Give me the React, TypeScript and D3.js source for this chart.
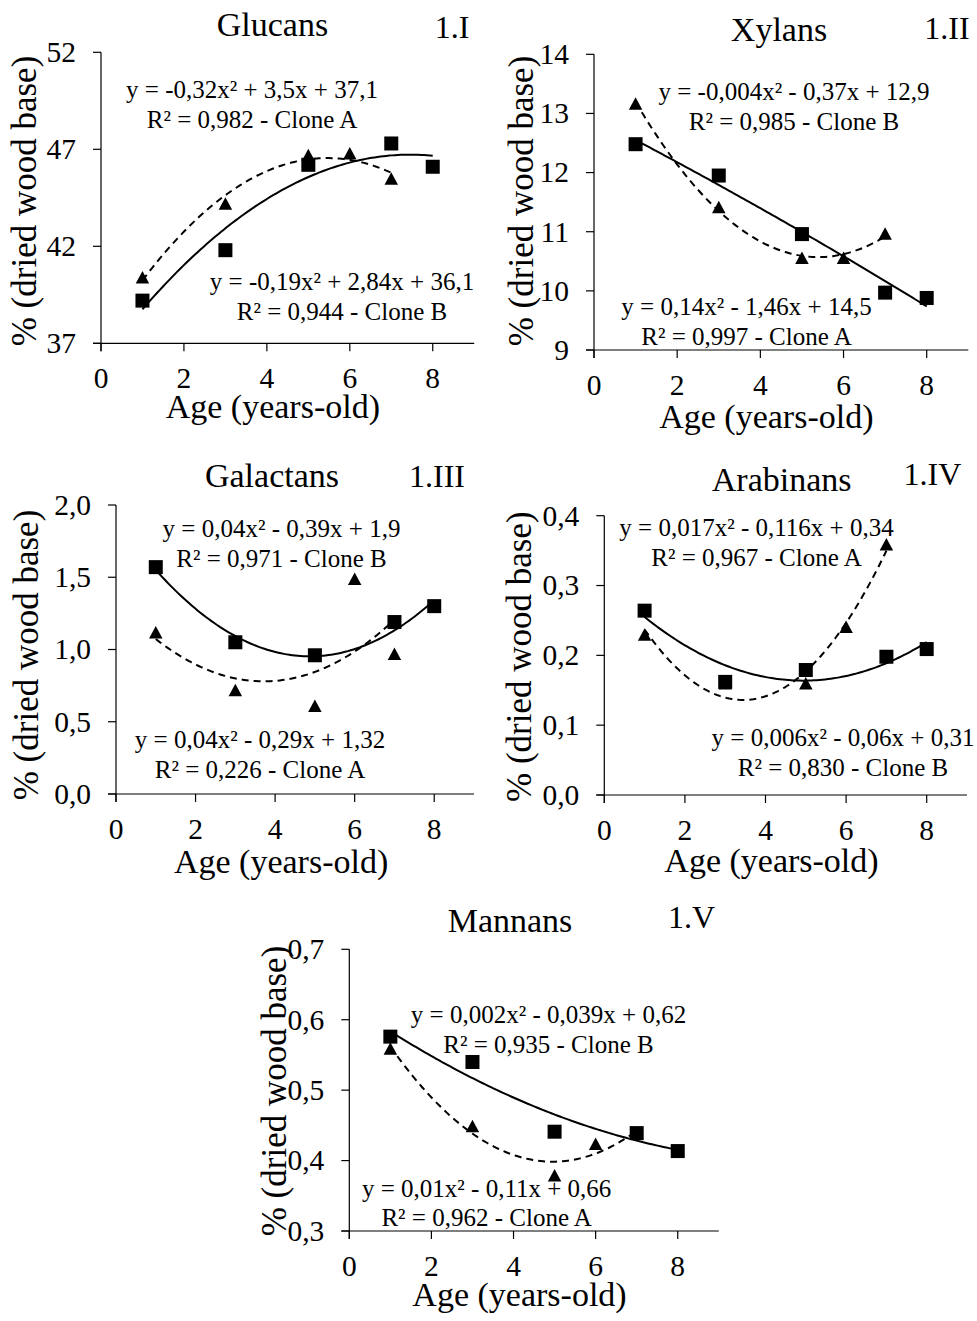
import React from "react";
import * as d3 from "d3";

// ---------- DATA ----------
const agesCloneA = [1, 3, 5, 6, 7];
const agesCloneB = [1, 3, 5, 7, 8];

const glucansA = [40.4, 44.2, 46.7, 46.8, 45.5];
const glucansB = [39.2, 41.8, 46.2, 47.3, 46.1];

const xylansA = [13.17, 11.42, 10.56, 10.56, 10.97];
const xylansB = [12.48, 11.95, 10.96, 9.97, 9.88];

const galactansA = [1.12, 0.72, 0.61, 1.49, 0.97];
const galactansB = [1.57, 1.05, 0.96, 1.19, 1.3];

const arabinansA = [0.23, 0.16, 0.16, 0.241, 0.359];
const arabinansB = [0.264, 0.162, 0.179, 0.198, 0.209];

const mannansA = [0.559, 0.449, 0.379, 0.424, 0.44];
const mannansB = [0.576, 0.54, 0.441, 0.439, 0.4135];

const xTicks = [0, 2, 4, 6, 8];
const yTicksGlucans = [37, 42, 47, 52];
const yTicksXylans = [9, 10, 11, 12, 13, 14];
const yTicksGalactans = [0, 0.5, 1.0, 1.5, 2.0];
const yTicksArabinans = [0, 0.1, 0.2, 0.3, 0.4];
const yTicksMannans = [0.3, 0.4, 0.5, 0.6, 0.7];

const titles = ["Glucans", "Xylans", "Galactans", "Arabinans", "Mannans"];
const panelIds = ["1.I", "1.II", "1.III", "1.IV", "1.V"];

const eqGlucansA = ["y = -0,32x² + 3,5x + 37,1", "R² = 0,982 - Clone A"];
const eqGlucansB = ["y = -0,19x² + 2,84x + 36,1", "R² = 0,944 - Clone B"];
const eqXylansB = ["y = -0,004x² - 0,37x + 12,9", "R² = 0,985 - Clone B"];
const eqXylansA = ["y = 0,14x² - 1,46x + 14,5", "R² = 0,997 - Clone A"];
const eqGalactansB = ["y = 0,04x² - 0,39x + 1,9", "R² = 0,971 - Clone B"];
const eqGalactansA = ["y = 0,04x² - 0,29x + 1,32", "R² = 0,226 - Clone A"];
const eqArabinansA = ["y = 0,017x² - 0,116x + 0,34", "R² = 0,967 - Clone A"];
const eqArabinansB = ["y = 0,006x² - 0,06x + 0,31", "R² = 0,830 - Clone B"];
const eqMannansB = ["y = 0,002x² - 0,039x + 0,62", "R² = 0,935 - Clone B"];
const eqMannansA = ["y = 0,01x² - 0,11x + 0,66", "R² = 0,962 - Clone A"];

const xLabel = "Age (years-old)";
const yLabel = "% (dried wood base)";

// ---------- LAYOUT ----------
const FONT = "'Liberation Serif', 'Times New Roman', serif";

const panels = [
  {
    a: glucansA, b: glucansB, yTicks: yTicksGlucans, yDomain: [37, 52], dec: 0,
    xr: [101, 474.2], yr: [343.3, 52.3],
    title: [272.5, 36], id: [452, 38],
    eqTop: eqGlucansA, eqTopPos: [252, 98], eqBot: eqGlucansB, eqBotPos: [342, 290],
    yTitle: [36, 201], xTitleY: 418,
  },
  {
    a: xylansA, b: xylansB, yTicks: yTicksXylans, yDomain: [9, 14], dec: 0,
    xr: [594, 968.3], yr: [350, 54.3],
    title: [779, 41], id: [947, 39],
    eqTop: eqXylansB, eqTopPos: [794, 100], eqBot: eqXylansA, eqBotPos: [746.5, 315],
    yTitle: [533, 201], xTitleY: 428,
  },
  {
    a: galactansA, b: galactansB, yTicks: yTicksGalactans, yDomain: [0, 2], dec: 1,
    xr: [116, 474], yr: [794, 505],
    title: [272, 486.5], id: [437, 486.5],
    eqTop: eqGalactansB, eqTopPos: [281.5, 537], eqBot: eqGalactansA, eqBotPos: [260, 748],
    yTitle: [38, 655], xTitleY: 873,
  },
  {
    a: arabinansA, b: arabinansB, yTicks: yTicksArabinans, yDomain: [0, 0.4], dec: 1,
    xr: [604.3, 967], yr: [795, 515.7],
    title: [781.7, 491], id: [932.5, 485],
    eqTop: eqArabinansA, eqTopPos: [756.5, 536], eqBot: eqArabinansB, eqBotPos: [843, 746],
    yTitle: [531, 656.7], xTitleY: 871.5,
  },
  {
    a: mannansA, b: mannansB, yTicks: yTicksMannans, yDomain: [0.3, 0.7], dec: 1,
    xr: [349.3, 718.8], yr: [1231, 949.3],
    title: [510, 931.5], id: [691.5, 928],
    eqTop: eqMannansB, eqTopPos: [548.5, 1023], eqBot: eqMannansA, eqBotPos: [486.7, 1196.5],
    yTitle: [286, 1091], xTitleY: 1306,
  },
];

// quadratic least-squares fit (Excel polynomial trendline)
function quadFit(xs: number[], ys: number[]) {
  const s = [0, 0, 0, 0, 0];
  const t = [0, 0, 0];
  xs.forEach((x, i) => {
    for (let k = 0; k < 5; k++) s[k] += Math.pow(x, k);
    for (let k = 0; k < 3; k++) t[k] += Math.pow(x, k) * ys[i];
  });
  const M = [
    [s[0], s[1], s[2], t[0]],
    [s[1], s[2], s[3], t[1]],
    [s[2], s[3], s[4], t[2]],
  ];
  for (let c = 0; c < 3; c++) {
    let p = c;
    for (let r = c + 1; r < 3; r++) if (Math.abs(M[r][c]) > Math.abs(M[p][c])) p = r;
    [M[c], M[p]] = [M[p], M[c]];
    for (let r = 0; r < 3; r++) {
      if (r === c) continue;
      const f = M[r][c] / M[c][c];
      for (let k = c; k < 4; k++) M[r][k] -= f * M[c][k];
    }
  }
  const c0 = M[0][3] / M[0][0], c1 = M[1][3] / M[1][1], c2 = M[2][3] / M[2][2];
  return (x: number) => c0 + c1 * x + c2 * x * x;
}

const TRI_W = 13.5;
const TRI_H = 12.5;
const SQ = 14;

function Panel({ p }: { p: any }) {
  const x = d3.scaleLinear().domain([0, 9]).range(p.xr);
  const y = d3.scaleLinear().domain(p.yDomain).range(p.yr);
  const fmt = (v: number) => (p.dec ? v.toFixed(1).replace(".", ",") : String(v));
  const fitA = quadFit(agesCloneA, p.a);
  const fitB = quadFit(agesCloneB, p.b);
  const line = d3.line<number[]>().x((d) => x(d[0])).y((d) => y(d[1]));
  const sample = (f: (v: number) => number, lo: number, hi: number) =>
    d3.range(0, 101).map((i) => {
      const xv = lo + ((hi - lo) * i) / 100;
      return [xv, f(xv)];
    });
  const triPath = (cx: number, cy: number) =>
    `M${cx},${cy - TRI_H / 2}L${cx + TRI_W / 2},${cy + TRI_H / 2}L${cx - TRI_W / 2},${cy + TRI_H / 2}Z`;
  const x0 = p.xr[0];
  const yb = p.yr[0];
  const tickLen = 8;
  const eqFont = 25;
  return (
    <g fontFamily={FONT} fill="#000">
      {/* axes */}
      <line x1={x0} x2={x0} y1={y(p.yDomain[1])} y2={yb + tickLen} stroke="#000" strokeWidth={1.2} />
      <line x1={x0 - tickLen} x2={p.xr[1]} y1={yb} y2={yb} stroke="#000" strokeWidth={1.2} />
      {p.yTicks.map((t: number) => (
        <g key={"y" + t}>
          <line x1={x0 - tickLen} x2={x0} y1={y(t)} y2={y(t)} stroke="#000" strokeWidth={1.2} />
          <text x={x0 - 25} y={y(t) + 9.8} fontSize={29.5} textAnchor="end">
            {fmt(t)}
          </text>
        </g>
      ))}
      {xTicks.map((t) => (
        <g key={"x" + t}>
          <line x1={x(t)} x2={x(t)} y1={yb} y2={yb + tickLen} stroke="#000" strokeWidth={1.2} />
          <text x={x(t)} y={yb + 44.5} fontSize={29.5} textAnchor="middle">
            {t}
          </text>
        </g>
      ))}
      {/* trend lines */}
      <path d={line(sample(fitA, 1, 7) as any) || ""} fill="none" stroke="#000" strokeWidth={2} strokeDasharray="7,5" />
      <path d={line(sample(fitB, 1, 8) as any) || ""} fill="none" stroke="#000" strokeWidth={2} />
      {/* markers */}
      {agesCloneA.map((a, i) => (
        <path key={"a" + i} d={triPath(x(a), y(p.a[i]))} fill="#000" />
      ))}
      {agesCloneB.map((a, i) => (
        <rect key={"b" + i} x={x(a) - SQ / 2} y={y(p.b[i]) - SQ / 2} width={SQ} height={SQ} fill="#000" />
      ))}
      {/* titles */}
      <text x={p.title[0]} y={p.title[1]} fontSize={34} textAnchor="middle">{p.titleText}</text>
      <text x={p.id[0]} y={p.id[1]} fontSize={32} textAnchor="middle">{p.idText}</text>
      {/* equations */}
      {p.eqTop.map((s: string, i: number) => (
        <text key={"et" + i} x={p.eqTopPos[0]} y={p.eqTopPos[1] + i * 29.5} fontSize={eqFont} textAnchor="middle">{s}</text>
      ))}
      {p.eqBot.map((s: string, i: number) => (
        <text key={"eb" + i} x={p.eqBotPos[0]} y={p.eqBotPos[1] + i * 29.5} fontSize={eqFont} textAnchor="middle">{s}</text>
      ))}
      {/* axis titles */}
      <text x={(x(0) + x(8)) / 2 + 6} y={p.xTitleY} fontSize={34} textAnchor="middle">{xLabel}</text>
      <text transform={`translate(${p.yTitle[0]},${p.yTitle[1]}) rotate(-90)`} fontSize={35} textAnchor="middle">{yLabel}</text>
    </g>
  );
}

export default function App() {
  return (
    <svg width={977} height={1321} style={{ position: "absolute", left: 0, top: 0, background: "#fff" }}>
      <rect width={977} height={1321} fill="#fff" />
      {panels.map((p, i) => (
        <Panel key={i} p={{ ...p, titleText: titles[i], idText: panelIds[i] }} />
      ))}
    </svg>
  );
}
